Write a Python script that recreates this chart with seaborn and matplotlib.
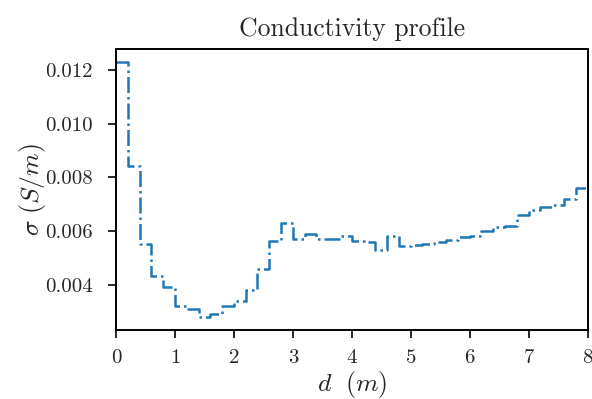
import matplotlib
matplotlib.use("Agg")
import matplotlib.pyplot as plt
import seaborn as sns
import pandas as pd

# Layer tops (m) and conductivities (S/m)
depth_edges = [round(0.2 * i, 1) for i in range(41)]
sigma = [0.0123, 0.00843, 0.00551, 0.00432, 0.00392, 0.00322, 0.00312, 0.00280,
         0.00293, 0.00322, 0.00339, 0.00380, 0.00460, 0.00562, 0.00630, 0.00570,
         0.00590, 0.00571, 0.00571, 0.00583, 0.00562, 0.00560, 0.00530, 0.00583,
         0.00545, 0.00550, 0.00553, 0.00560, 0.00568, 0.00580, 0.00582, 0.00599,
         0.00614, 0.00621, 0.00661, 0.00680, 0.00690, 0.00698, 0.00720, 0.00760]
x_ticks = [0, 1, 2, 3, 4, 5, 6, 7, 8]
y_ticks = [0.004, 0.006, 0.008, 0.010, 0.012]
title = "Conductivity profile"
xlabel = r"$d\ \ (m)$"
ylabel = r"$\sigma\ (S/m)$"

sns.set_style("ticks")
plt.rcParams.update({
    "font.family": "serif",
    "font.serif": ["cmr10", "DejaVu Serif"],
    "mathtext.fontset": "cm",
    "axes.formatter.use_mathtext": True,
    "axes.linewidth": 1.4,
    "xtick.major.width": 1.4,
    "ytick.major.width": 1.4,
    "xtick.major.size": 6,
    "ytick.major.size": 6,
    "xtick.direction": "out",
    "ytick.direction": "out",
})

df = pd.DataFrame({"d": depth_edges, "sigma": sigma + [sigma[-1]]})

fig = plt.figure(figsize=(5.92, 3.99), dpi=100)
ax = fig.add_axes([0.196, 0.1729, 0.7964, 0.7043])
sns.lineplot(data=df, x="d", y="sigma", ax=ax, drawstyle="steps-post",
             linestyle="-.", color="#1f77b4", linewidth=1.8)

ax.set_xlim(0, 8)
ax.set_xticks(x_ticks)
ax.set_xticklabels([str(t) for t in x_ticks], fontsize=15)
ax.set_yticks(y_ticks)
ax.set_yticklabels([f"{t:.3f}" for t in y_ticks], fontsize=15)
ax.tick_params(axis="x", pad=8)
ax.tick_params(axis="y", pad=10.5)
ax.set_title(title, fontsize=18.5, pad=9)
ax.set_xlabel(xlabel, fontsize=18.5, labelpad=1)
ax.set_ylabel(ylabel, fontsize=18.5, labelpad=-2)
for s in ax.spines.values():
    s.set_visible(True)
    s.set_color("black")

fig.savefig("out.png", dpi=100)
